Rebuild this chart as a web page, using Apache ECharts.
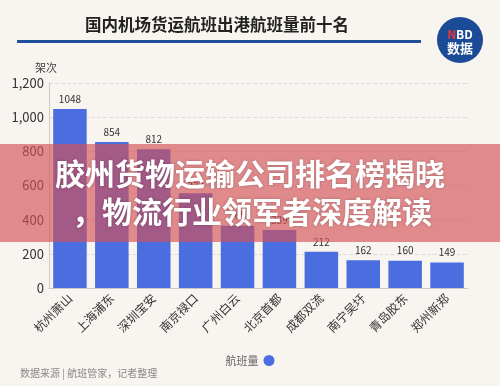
<!DOCTYPE html>
<html>
<head>
<meta charset="utf-8">
<script src="https://cdn.jsdelivr.net/npm/echarts@6/dist/echarts.min.js"></script>
<style>
html,body{margin:0;padding:0;background:#f8f5f0;}
#c{width:500px;height:386px;}
</style>
</head>
<body>
<div id="c"></div>
<script>
var categories = ['杭州萧山','上海浦东','深圳宝安','南京禄口','广州白云','北京首都','成都双流','南宁吴圩','青岛胶东','郑州新郑'];
var flights = [1048, 854, 812, 555, 365, 339, 212, 162, 160, 149];
var yTicks = [0, 200, 400, 600, 800, 1000, 1200];
var seriesName = '航班量';
var titleText = '国内机场货运航班出港航班量前十名';
var bannerLines = ['胶州货物运输公司排名榜揭晓', '，物流行业领军者深度解读'];
var sourceText = '数据来源 | 航班管家，记者整理';

var FONT = '"Noto Sans CJK SC", "Noto Sans", sans-serif';
var chart = echarts.init(document.getElementById('c'), null, {renderer:'canvas'});
chart.setOption({
  backgroundColor: '#f8f5f0',
  textStyle: {fontFamily: FONT},
  animation: false,
  grid: {left: 49, right: 32, top: 83, bottom: 98, containLabel: false},
  legend: {
    data: [seriesName], top: 350, left: 'center', align: 'right', icon: 'circle',
    itemWidth: 11, itemHeight: 11, itemGap: 4,
    textStyle: {color: '#666', fontSize: 11, fontFamily: FONT}
  },
  xAxis: {
    type: 'category', data: categories,
    axisLine: {lineStyle: {color: '#c8c8c8'}},
    axisTick: {show: false},
    axisLabel: {rotate: 45, color: '#333', fontSize: 12, interval: 0, margin: 8, fontFamily: FONT}
  },
  yAxis: {
    type: 'value', min: yTicks[0], max: yTicks[yTicks.length-1], interval: 200,
    name: '架次', nameGap: 10,
    nameTextStyle: {color: '#444', fontSize: 11, align: 'right', padding: [0, -8, 0, 0], fontFamily: FONT},
    axisLine: {show: true, lineStyle: {color: '#c8c8c8'}},
    axisTick: {show: false},
    axisLabel: {color: '#333', fontSize: 13, margin: 5, fontFamily: FONT,
      formatter: function(v){ return v.toLocaleString('en-US'); }},
    splitLine: {lineStyle: {color: '#dcdcdc', type: 'dashed'}}
  },
  series: [{
    name: seriesName, type: 'bar', data: flights, barWidth: '80%',
    itemStyle: {color: '#4a6ddf'},
    label: {show: true, position: 'top', color: '#333', fontSize: 10, distance: 5, fontFamily: FONT}
  }],
  graphic: [
    {type: 'text', x: 217, y: 25, z: 10,
      style: {text: titleText, fill: '#222', font: 'bold 16.5px ' + FONT, align: 'center', verticalAlign: 'middle'}},
    {type: 'rect', shape: {x: 17, y: 40, width: 404, height: 3}, style: {fill: '#1f4f9a'}, z: 10},
    {type: 'circle', shape: {cx: 460, cy: 40, r: 23}, style: {fill: '#1b4a96'}, z: 10},
    {type: 'text', x: 460, y: 34, z: 11,
      style: {rich: {n: {fill: '#e8353b', font: 'bold 12px ' + FONT}, b: {fill: '#fff', font: 'bold 12px ' + FONT}},
        text: '{n|N}{b|BD}', align: 'center', verticalAlign: 'middle'}},
    {type: 'text', x: 460, y: 48, z: 11,
      style: {text: '数据', fill: '#fff', font: 'bold 13px ' + FONT, align: 'center', verticalAlign: 'middle'}},
    {type: 'rect', shape: {x: 0, y: 144, width: 500, height: 98}, style: {fill: 'rgba(211,80,86,0.65)'}, z: 100},
    {type: 'text', x: 250, y: 174, z: 101,
      style: {text: bannerLines[0], fill: '#fff', font: 'bold 30px ' + FONT, align: 'center', verticalAlign: 'middle',
        textShadowColor: 'rgba(0,0,0,0.25)', textShadowBlur: 3}},
    {type: 'text', x: 252, y: 212, z: 101,
      style: {text: bannerLines[1], fill: '#fff', font: 'bold 30px ' + FONT, align: 'center', verticalAlign: 'middle',
        textShadowColor: 'rgba(0,0,0,0.25)', textShadowBlur: 3}},
    {type: 'text', x: 20, y: 373, z: 10,
      style: {text: sourceText, fill: '#888', font: '10px ' + FONT, verticalAlign: 'middle'}}
  ]
});
</script>
</body>
</html>
